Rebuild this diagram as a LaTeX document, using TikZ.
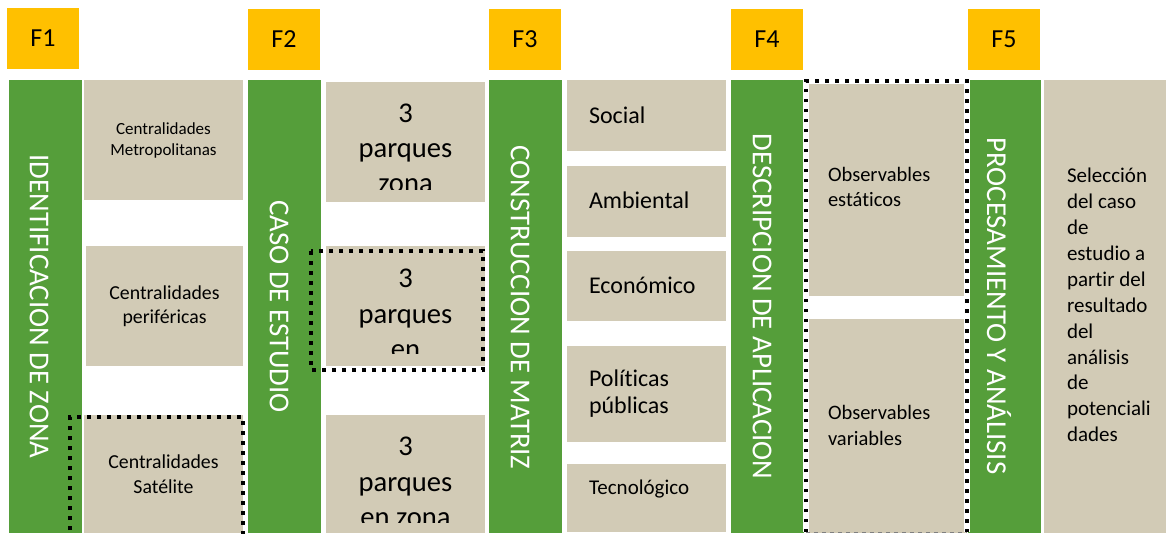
\documentclass[tikz,border=0pt]{standalone}
\usepackage{fontspec}
\setmainfont{Carlito}[Ligatures=NoCommon]
\definecolor{fyellow}{HTML}{FFC000}
\definecolor{fgreen}{HTML}{559E3A}
\definecolor{fbeige}{HTML}{D2CBB6}
\newcommand\fsz[2]{\fontsize{#1}{#2}\selectfont}
\begin{document}
\begin{tikzpicture}[x=1pt,y=-1pt,
  every node/.style={inner sep=0pt, outer sep=0pt},
  phase/.style={fill=fyellow, anchor=north west, minimum width=72pt, minimum height=61pt, font=\fsz{26}{31}},
  bar/.style={fill=fgreen, anchor=north west, minimum width=73pt, minimum height=453pt},
  bartext/.style={rotate=-90, text=white, font=\fsz{28.8}{34}},
  cell/.style={fill=fbeige, anchor=north west},
  dots/.style={line width=4pt, dash pattern=on 4pt off 6pt},
  whiteedge/.style={draw=white, line width=5.5pt}
]
\useasboundingbox (0,0) rectangle (1166,533);
\fill[white] (0,0) rectangle (1166,533);

% phase labels
\node[phase] (f1) at (7,8) {F1};
\node[phase] (f2) at (248,9) {F2};
\node[phase] (f3) at (489,9) {F3};
\node[phase] (f4) at (731,9) {F4};
\node[phase] (f5) at (968,9) {F5};

% green bars
\node[bar] (b1) at (9,80) {};
\node[bar] (b2) at (248,80) {};
\node[bar] (b3) at (489,80) {};
\node[bar] (b4) at (731,80) {};
\node[bar] (b5) at (968,80) {};
\node[bartext] (bt1) at (39,306.5) {IDENTIFICACION DE ZONA};
\node[bartext] (bt2) at (279,306.5) {CASO DE ESTUDIO};
\node[bartext] (bt3) at (520,307.5) {CONSTRUCCION DE MATRIZ};
\node[bartext] (bt4) at (762,306.5) {DESCRIPCION DE APLICACION};
\node[bartext] (bt5) at (999,306) {PROCESAMIENTO Y ANÁLISIS};

% column 1
\node[cell, minimum width=159pt, minimum height=120pt] (c11) at (84,80) {};
\node[cell, minimum width=157pt, minimum height=120pt] (c12) at (86,246) {};
\node[cell, minimum width=159pt, minimum height=118pt] (c13) at (84,415) {};
\node[align=center, font=\fsz{17}{21}] (t11) at (163.5,140) {Centralidades\\Metropolitanas};
\node[align=center, font=\fsz{19.8}{23.5}] (t12) at (164.5,306) {Centralidades\\periféricas};
\node[align=center, font=\fsz{19.8}{25}] (t13) at (163.5,474) {Centralidades\\Satélite};

% column 2
\node[cell, minimum width=159pt, minimum height=120pt] (c21) at (326,82) {};
\node[cell, minimum width=159pt, minimum height=120pt] (c22) at (326,246) {};
\node[cell, minimum width=159pt, minimum height=118pt] (c23) at (326,415) {};
\begin{scope}
  \clip (326,82) rectangle (485,189);
  \node[anchor=north, align=center, font=\fsz{28.6}{35}] (t21) at (405.5,104) {3\\parques\\zona};
\end{scope}
\begin{scope}
  \clip (326,246) rectangle (485,353);
  \node[anchor=north, align=center, font=\fsz{28.6}{35.5}] (t22) at (405.5,269) {3\\parques\\en};
\end{scope}
\begin{scope}
  \clip (326,415) rectangle (485,522);
  \node[anchor=north, align=center, font=\fsz{28.6}{35.5}] (t23) at (405.5,437) {3\\parques\\en zona};
\end{scope}

% column 3
\node[cell, minimum width=159pt, minimum height=71pt] (c31) at (567,80) {};
\node[cell, minimum width=159pt, minimum height=71pt] (c32) at (567,166) {};
\node[cell, minimum width=159pt, minimum height=70pt] (c33) at (567,251) {};
\node[cell, minimum width=159pt, minimum height=96pt] (c34) at (567,346) {};
\node[cell, minimum width=159pt, minimum height=68pt] (c35) at (567,464) {};
\node[anchor=base west, font=\fsz{24}{29}] (t31) at (589,123) {Social};
\node[anchor=base west, font=\fsz{24}{29}] (t32) at (589,208) {Ambiental};
\node[anchor=base west, font=\fsz{24}{29}] (t33) at (589,293) {Económico};
\node[anchor=west, align=left, font=\fsz{24}{27}] (t34) at (589,394) {Políticas\\públicas};
\node[anchor=base west, font=\fsz{21}{26}] (t35) at (589,494) {Tecnológico};

% column 4
\node[cell, minimum width=160pt, minimum height=216pt] (c41) at (806,80) {};
\node[cell, minimum width=160pt, minimum height=214pt] (c42) at (806,319) {};
\node[anchor=west, align=left, font=\fsz{20.5}{25.5}] (t41) at (828,187) {Observables\\estáticos};
\node[anchor=west, align=left, font=\fsz{20.5}{26}] (t42) at (828,425.5) {Observables\\variables};

% column 5
\node[cell, minimum width=122pt, minimum height=453pt] (c51) at (1044,80) {};
\node[anchor=west, align=left, font=\fsz{21}{25.9}] (t51) at (1067,305) {Selección\\del caso\\de\\estudio a\\partir del\\resultado\\del\\análisis\\de\\potenciali\\dades};

% dotted highlights
\coordinate (d1a) at (70,540);
\coordinate (d1b) at (70,417);
\coordinate (d1c) at (243,417);
\coordinate (d1d) at (243,540);
\draw[dots] (d1a) -- (d1b) -- (d1c) -- (d1d);

\coordinate (d2a) at (311,251);
\coordinate (d2b) at (483,370);
\draw[dots] (d2a) rectangle (d2b);

\coordinate (d4a) at (806,532);
\coordinate (d4b) at (806,81);
\coordinate (d4c) at (967,81);
\coordinate (d4d) at (967,532);
\draw[whiteedge] (d4a) -- (d4b) -- (d4c) -- (d4d);
\draw[line width=3.5pt, dash pattern=on 3.5pt off 6.5pt] (d4a) -- (d4b) -- (d4c) -- (d4d);
\draw[gray, line width=1pt, dash pattern=on 4pt off 4pt] (d4a) -- (d4d);
\end{tikzpicture}
\end{document}
